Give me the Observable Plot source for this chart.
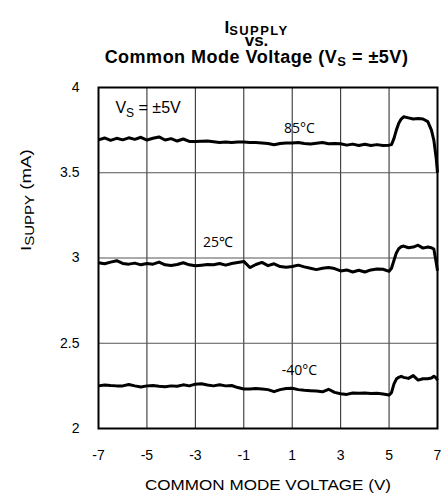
<!DOCTYPE html>
<html><head><meta charset="utf-8">
<script src="https://cdn.jsdelivr.net/npm/d3@7"></script>
<script src="https://cdn.jsdelivr.net/npm/@observablehq/plot@0.6"></script>
<style>
body{margin:0;background:#fff;font-family:"Liberation Sans",Arial,sans-serif;}
#wrap{position:relative;width:443px;height:498px;overflow:hidden;}
#title{position:absolute;left:0;top:0;width:443px;height:68px;}
.t{position:absolute;left:0;width:513px;text-align:center;font-weight:bold;color:#000;white-space:nowrap;}
.sub{position:relative;}
#chart{position:absolute;left:0;top:68px;}
</style></head>
<body>
<div id="wrap">
  <div id="title">
    <div class="t" style="top:22px;font-size:17px;line-height:12px;">I<span class="sub" style="font-size:13px;top:2px;letter-spacing:1.4px;line-height:10px;">SUPPLY</span></div>
    <div class="t" style="top:34.5px;font-size:17px;line-height:12px;">vs.</div>
    <div class="t" style="top:50px;font-size:18px;line-height:14px;letter-spacing:0.5px;">Common Mode Voltage (V<span class="sub" style="font-size:13px;top:3px;">S</span> = ±5V)</div>
  </div>
  <div id="chart"></div>
</div>
<script>
// Common mode voltage (V)
const voltage = [-7,-6.75,-6.5,-6.25,-6,-5.75,-5.5,-5.25,-5,-4.75,-4.5,-4.25,-4,-3.75,-3.5,-3.25,-3,-2.75,-2.5,-2.25,-2,-1.75,-1.5,-1.25,-1,-0.75,-0.5,-0.25,0,0.25,0.5,0.75,1,1.25,1.5,1.75,2,2.25,2.5,2.75,3,3.25,3.5,3.75,4,4.25,4.5,4.75,5,
  5.1,5.2,5.3,5.4,5.5,5.6,5.8,6.0,6.2,6.4,6.6,6.75,6.85,6.95,7.0];
// Supply current (mA) per temperature
const supply85 = [3.693,3.704,3.690,3.702,3.693,3.705,3.696,3.708,3.692,3.702,3.710,3.692,3.700,3.686,3.698,3.684,3.683,3.685,3.686,3.682,3.678,3.680,3.678,3.680,3.680,3.678,3.677,3.675,3.672,3.664,3.672,3.675,3.675,3.678,3.672,3.668,3.673,3.677,3.670,3.672,3.670,3.662,3.668,3.660,3.667,3.660,3.665,3.660,3.662,
  3.665,3.700,3.750,3.790,3.815,3.828,3.822,3.815,3.818,3.815,3.800,3.750,3.690,3.580,3.500];
const supply25 = [2.972,2.966,2.976,2.984,2.968,2.964,2.970,2.960,2.968,2.964,2.976,2.960,2.956,2.962,2.972,2.960,2.954,2.958,2.962,2.960,2.968,2.958,2.968,2.974,2.980,2.944,2.962,2.974,2.955,2.966,2.950,2.946,2.950,2.958,2.948,2.940,2.932,2.940,2.944,2.938,2.924,2.930,2.918,2.928,2.918,2.930,2.936,2.934,2.922,
  2.940,2.985,3.030,3.055,3.066,3.070,3.060,3.064,3.075,3.058,3.064,3.060,3.052,2.970,2.925];
const supplyM40 = [2.250,2.255,2.252,2.250,2.250,2.258,2.250,2.244,2.250,2.252,2.248,2.245,2.250,2.248,2.256,2.250,2.260,2.262,2.255,2.250,2.256,2.250,2.252,2.240,2.232,2.232,2.235,2.232,2.228,2.216,2.228,2.235,2.236,2.228,2.224,2.222,2.220,2.215,2.230,2.212,2.204,2.200,2.208,2.207,2.208,2.205,2.207,2.202,2.196,
  2.210,2.260,2.290,2.300,2.306,2.300,2.294,2.310,2.284,2.292,2.292,2.296,2.306,2.296,2.282];
const temps = ["85°C","25°C","-40°C"];

const xTicks = [-7,-5,-3,-1,1,3,5,7];
const yTicks = [2,2.5,3,3.5,4];
const gridX = [-5,-3,-1,1,3,5];
const gridY = [2.5,3,3.5];

const xLabel = "COMMON MODE VOLTAGE (V)";
const yLabel = "I{SUPPY} (mA)";
const condLabel = "V{S} = ±5V";
const condV = [-6.3], condI = [3.883];
const tempLabels = ["85°C","25℃","-40°C"];
const tempLabelV = [1.3,-2.06,1.3];
const tempLabelI = [3.762,3.09,2.338];

const rows = [];
[supply85, supply25, supplyM40].forEach((arr, k) =>
  voltage.forEach((v, j) => rows.push({v, i: arr[j], t: temps[k]})));
const tempRows = tempLabels.map((s, k) => ({s, v: tempLabelV[k], i: tempLabelI[k]}));
const condRows = [{s: condLabel, v: condV[0], i: condI[0]}];

const chart = Plot.plot({
  width: 443, height: 430,
  marginTop: 19, marginBottom: 70, marginLeft: 98, marginRight: 6,
  style: {fontFamily: "'Liberation Sans', Arial, sans-serif", fontSize: "14px", color: "#000", background: "#fff", overflow: "visible"},
  x: {domain: [-7, 7]},
  y: {domain: [2, 4]},
  marks: [
    Plot.ruleX(gridX, {stroke: "#222", strokeWidth: 1}),
    Plot.ruleY(gridY, {stroke: "#555", strokeWidth: 1}),
    Plot.axisX(xTicks, {tickSize: 0, tickPadding: 22, fontSize: 14, label: null, tickFormat: d => String(d)}),
    Plot.axisY(yTicks, {tickSize: 0, tickPadding: 19, fontSize: 14, label: null, tickFormat: d => String(d)}),
    Plot.line(rows, {x: "v", y: "i", z: "t", stroke: "#000", strokeWidth: 3, strokeLinejoin: "round", strokeLinecap: "butt"}),
    Plot.frame({stroke: "#000", strokeWidth: 2}),
    Plot.text([xLabel], {text: d => d, frameAnchor: "bottom", dy: 61, fontSize: 14}),
    Plot.text([yLabel], {text: d => d, frameAnchor: "left", dx: -72, dy: -7, rotate: -90, fontSize: 15}),
    Plot.text(condRows, {x: "v", y: "i", text: "s", textAnchor: "start", fontSize: 16}),
    Plot.text(tempRows, {x: "v", y: "i", text: "s", fontSize: 14, fontFamily: "'Open Sans', sans-serif"})
  ]
});
document.getElementById("chart").appendChild(chart);

const svg = d3.select(chart);
// subscripts written as {..}
svg.selectAll("text").each(function() {
  const el = this;
  const s = el.textContent;
  if (!s.includes("{")) return;
  const fs = parseFloat(getComputedStyle(el).fontSize) || 14;
  const subFs = Math.round(fs * 0.78);
  const shift = Math.round(fs * 0.22);
  el.textContent = "";
  const parts = s.split(/(\{[^}]*\})/).filter(p => p.length);
  let inSub = false;
  parts.forEach(p => {
    const ts = document.createElementNS("http://www.w3.org/2000/svg", "tspan");
    if (p.startsWith("{")) {
      ts.textContent = p.slice(1, -1);
      ts.setAttribute("font-size", subFs);
      ts.setAttribute("dy", shift);
      inSub = true;
    } else {
      ts.textContent = p;
      if (inSub) { ts.setAttribute("dy", -shift); inSub = false; }
    }
    el.appendChild(ts);
  });
});
// horizontal stretch of the axis titles to match the reference
function stretch(content, s) {
  svg.selectAll("text").each(function() {
    if (this.textContent !== content) return;
    const x = +this.getAttribute("x") || 0, y = +this.getAttribute("y") || 0;
    const tr = this.getAttribute("transform") || "";
    this.setAttribute("transform", `${tr} translate(${x},${y}) scale(${s},1) translate(${-x},${-y})`);
  });
}
stretch("COMMON MODE VOLTAGE (V)", 1.22);
stretch("ISUPPY (mA)", 1.25);
</script>
</body></html>
